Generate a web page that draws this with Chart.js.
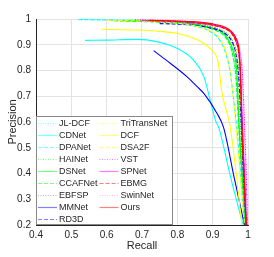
<!DOCTYPE html>
<html>
<head>
<meta charset="utf-8">
<script src="https://cdn.jsdelivr.net/npm/chart.js@4/dist/chart.umd.min.js"></script>
<style>
html,body{margin:0;padding:0;background:#fff;}
#wrap{width:274px;height:257px;}
</style>
</head>
<body>
<div id="wrap"><canvas id="c" width="274" height="257"></canvas></div>
<script>
// ---- data ----
const xTicks = [0.4, 0.5, 0.6, 0.7, 0.8, 0.9, 1];
const yTicks = [0.2, 0.3, 0.4, 0.5, 0.6, 0.7, 0.8, 0.9, 1];

const methodNames = ['JL-DCF','CDNet','DPANet','HAINet','DSNet','CCAFNet','EBFSP','MMNet','RD3D',
                     'TriTransNet','DCF','DSA2F','VST','SPNet','EBMG','SwinNet','Ours'];

const recallJLDCF = [0.53,0.6,0.7,0.78,0.84,0.88,0.91,0.93,0.945,0.955,0.963,0.972,0.982,0.992];
const precisionJLDCF = [0.998,0.997,0.994,0.99,0.982,0.972,0.958,0.94,0.91,0.87,0.8,0.65,0.42,0.2];

const recallCDNet = [0.539,0.6,0.686,0.742,0.799,0.846,0.875,0.893,0.907,0.918,0.95,0.986];
const precisionCDNet = [0.917,0.918,0.921,0.912,0.886,0.84,0.776,0.685,0.61,0.575,0.39,0.2];

const recallDPANet = [0.52,0.6,0.7,0.78,0.84,0.88,0.9,0.916,0.935,0.949,0.96,0.97,0.98,0.99];
const precisionDPANet = [0.998,0.996,0.992,0.986,0.975,0.96,0.945,0.926,0.875,0.797,0.68,0.55,0.38,0.2];

const recallHAINet = [0.66,0.72,0.78,0.84,0.88,0.91,0.93,0.947,0.96,0.97,0.977,0.985,0.993];
const precisionHAINet = [0.995,0.993,0.99,0.984,0.976,0.965,0.95,0.925,0.88,0.8,0.62,0.4,0.2];

const recallDSNet = [0.64,0.7,0.78,0.84,0.88,0.91,0.93,0.944,0.958,0.968,0.975,0.984,0.993];
const precisionDSNet = [0.994,0.992,0.988,0.982,0.972,0.96,0.945,0.92,0.875,0.797,0.58,0.38,0.2];

const recallCCAFNet = [0.62,0.7,0.78,0.84,0.88,0.91,0.93,0.945,0.957,0.966,0.973,0.983,0.992];
const precisionCCAFNet = [0.993,0.99,0.986,0.979,0.968,0.955,0.938,0.91,0.86,0.78,0.6,0.38,0.2];

const recallEBFSP = [0.75,0.8,0.85,0.89,0.92,0.94,0.955,0.966,0.974,0.98,0.986,0.994];
const precisionEBFSP = [0.987,0.985,0.98,0.972,0.96,0.945,0.92,0.88,0.8,0.62,0.4,0.2];

const recallMMNet = [0.733,0.78,0.827,0.856,0.875,0.912,0.931,0.96,0.99];
const precisionMMNet = [0.877,0.828,0.776,0.737,0.711,0.634,0.578,0.39,0.2];

const recallRD3D = [0.75,0.8,0.85,0.89,0.92,0.94,0.955,0.965,0.973,0.98,0.987,0.995];
const precisionRD3D = [0.982,0.98,0.975,0.966,0.955,0.938,0.912,0.87,0.79,0.62,0.4,0.2];

const recallTriTransNet = [0.68,0.74,0.8,0.85,0.89,0.92,0.94,0.955,0.966,0.975,0.982,0.989,0.996];
const precisionTriTransNet = [0.997,0.995,0.991,0.985,0.976,0.963,0.947,0.922,0.88,0.8,0.62,0.4,0.2];

const recallDCF = [0.586,0.686,0.75,0.8,0.856,0.88,0.902,0.916,0.925,0.95,0.983];
const precisionDCF = [0.96,0.957,0.952,0.944,0.92,0.9,0.872,0.83,0.724,0.578,0.2];

const recallDSA2F = [0.6,0.7,0.78,0.84,0.88,0.905,0.922,0.937,0.948,0.958,0.97,0.98,0.99];
const precisionDSA2F = [0.995,0.992,0.986,0.976,0.962,0.945,0.92,0.875,0.81,0.7,0.52,0.36,0.2];

const recallVST = [0.68,0.75,0.82,0.87,0.91,0.935,0.955,0.968,0.977,0.984,0.99,0.995,0.999];
const precisionVST = [0.997,0.995,0.991,0.985,0.975,0.964,0.945,0.915,0.87,0.79,0.6,0.4,0.2];

const recallSPNet = [0.7,0.76,0.82,0.87,0.91,0.935,0.954,0.966,0.974,0.979,0.984,0.99,0.996];
const precisionSPNet = [0.995,0.993,0.989,0.983,0.974,0.963,0.945,0.915,0.87,0.79,0.6,0.4,0.2];

const recallEBMG = [0.72,0.78,0.84,0.88,0.91,0.935,0.953,0.965,0.973,0.978,0.983,0.989,0.995];
const precisionEBMG = [0.993,0.991,0.987,0.981,0.973,0.962,0.945,0.915,0.875,0.8,0.6,0.4,0.2];

const recallSwinNet = [0.7,0.76,0.82,0.87,0.91,0.935,0.955,0.968,0.977,0.983,0.989,0.994,0.999];
const precisionSwinNet = [0.997,0.995,0.992,0.986,0.977,0.967,0.95,0.922,0.88,0.8,0.6,0.4,0.2];

const recallOurs = [0.72,0.78,0.84,0.88,0.91,0.935,0.954,0.966,0.974,0.978,0.982,0.988,0.995];
const precisionOurs = [0.995,0.993,0.99,0.985,0.978,0.968,0.95,0.925,0.885,0.8,0.6,0.4,0.2];

const recallSeries = [recallJLDCF,recallCDNet,recallDPANet,recallHAINet,recallDSNet,recallCCAFNet,recallEBFSP,recallMMNet,recallRD3D,
  recallTriTransNet,recallDCF,recallDSA2F,recallVST,recallSPNet,recallEBMG,recallSwinNet,recallOurs];
const precisionSeries = [precisionJLDCF,precisionCDNet,precisionDPANet,precisionHAINet,precisionDSNet,precisionCCAFNet,precisionEBFSP,precisionMMNet,precisionRD3D,
  precisionTriTransNet,precisionDCF,precisionDSA2F,precisionVST,precisionSPNet,precisionEBMG,precisionSwinNet,precisionOurs];

// ---- styles ----
const colors = ['#00ffff','#00ffff','#00ffff','#00ff00','#00ff00','#00ff00','#6060ff','#0000ff','#0000ff',
                '#ffff00','#ffff00','#ffff00','#ff00ff','#ff00ff','#ff0000','#ff66ff','#ff0000'];
const DOT=[1,1.5], DASH=[4,2], SOLID=[];
const dashes = [DOT,SOLID,DASH,DOT,SOLID,DASH,DOT,SOLID,DASH,DOT,SOLID,DASH,DOT,SOLID,DASH,DOT,SOLID];

const N = methodNames.length;
const datasets = methodNames.map((name,i)=>({
  label: name,
  data: recallSeries[i].map((r,k)=>({x:r, y:precisionSeries[i][k]})),
  showLine: true,
  borderColor: colors[i],
  backgroundColor: colors[i],
  borderWidth: 1.1,
  borderDash: dashes[i],
  pointRadius: 0,
  fill: false,
  cubicInterpolationMode: 'monotone',
  order: N - 1 - i
}));

const FONT = '"Liberation Sans", Arial, Helvetica, sans-serif';
const INK = '#262626';

const legendPlugin = {
  id: 'boxLegend',
  afterDatasetsDraw(chart){
    const ctx = chart.ctx;
    const ca = chart.chartArea;
    const x0 = ca.left, y1 = ca.bottom;
    const w = 137, h = 109;
    const y0 = y1 - h;
    ctx.save();
    ctx.fillStyle = '#fff';
    ctx.fillRect(x0, y0, w, h);
    ctx.strokeStyle = 'rgba(38,38,38,0.55)';
    ctx.lineWidth = 1;
    ctx.strokeRect(x0+0.5, y0+0.5, w-1, h-1);
    ctx.font = '9px ' + FONT;
    ctx.textBaseline = 'middle';
    ctx.fillStyle = INK;
    methodNames.forEach((name,i)=>{
      const col = i < 9 ? 0 : 1;
      const row = i < 9 ? i : i - 9;
      const ly = y0 + 7 + row*12;
      const lx0 = col === 0 ? x0 + 2 : x0 + 63.5;
      const lx1 = lx0 + 19;
      ctx.save();
      ctx.strokeStyle = colors[i];
      ctx.globalAlpha = 0.5;
      ctx.lineWidth = 1.2;
      ctx.setLineDash(dashes[i]);
      ctx.beginPath();
      ctx.moveTo(lx0, ly+0.5);
      ctx.lineTo(lx1, ly+0.5);
      ctx.stroke();
      ctx.restore();
      ctx.fillStyle = INK;
      ctx.fillText(name, lx1 + 2, ly + 0.5);
    });
    ctx.restore();
  }
};

const fmt = v => String(+(+v).toFixed(1));

new Chart(document.getElementById('c'), {
  type: 'scatter',
  data: { datasets },
  plugins: [legendPlugin],
  options: {
    responsive: false,
    animation: false,
    layout: { padding: { left: 0, right: 26, top: 19, bottom: 0 } },
    plugins: { legend: { display: false }, tooltip: { enabled: false } },
    scales: {
      x: {
        type: 'linear', min: 0.4, max: 1,
        afterBuildTicks: s => { s.ticks = xTicks.map(v=>({value:v})); },
        afterFit: s => { s.height = 32; },
        ticks: { callback: fmt, color: INK, font: { size: 10, family: FONT }, padding: 4, maxRotation: 0 },
        grid: { color: '#e3e3e3', drawTicks: false, lineWidth: 1 },
        border: { display: true, color: INK, width: 1 },
        title: { display: true, text: 'Recall', color: INK, font: { size: 11, family: FONT }, padding: { top: 0, bottom: 4 } }
      },
      y: {
        type: 'linear', min: 0.2, max: 1,
        afterBuildTicks: s => { s.ticks = yTicks.map(v=>({value:v})); },
        afterFit: s => { s.width = 36; },
        ticks: { callback: fmt, color: INK, font: { size: 10, family: FONT }, padding: 5 },
        grid: { color: '#e3e3e3', drawTicks: false, lineWidth: 1 },
        border: { display: true, color: INK, width: 1 },
        title: { display: true, text: 'Precision', color: INK, font: { size: 11, family: FONT }, padding: { top: 6, bottom: 0 } }
      }
    }
  }
});
</script>
</body>
</html>
